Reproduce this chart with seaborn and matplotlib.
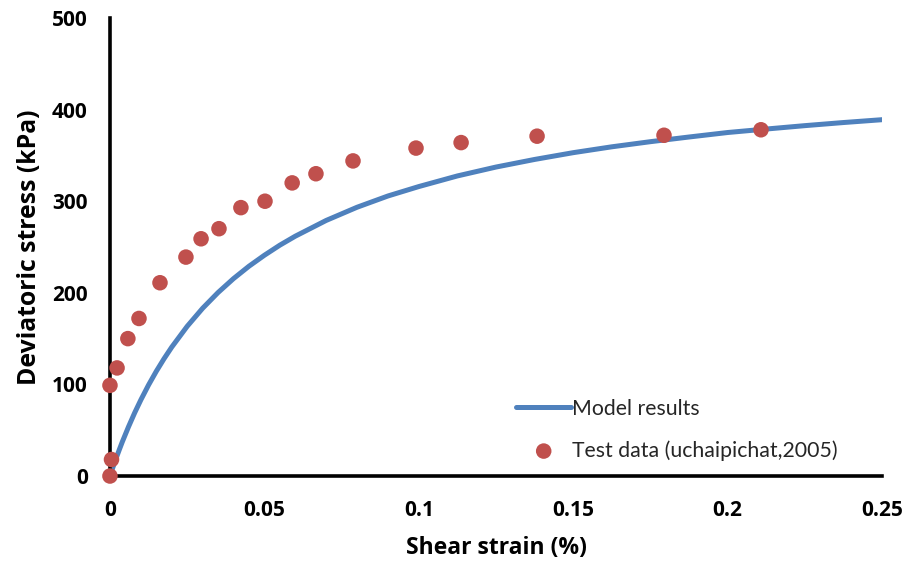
import matplotlib
matplotlib.use("Agg")
import matplotlib.pyplot as plt
import seaborn as sns
import pandas as pd
from matplotlib.ticker import MultipleLocator, FormatStrFormatter, FuncFormatter

# Model curve (shear strain %, deviatoric stress kPa)
model_strain = [0, 0.0005, 0.001, 0.002, 0.003, 0.004, 0.006, 0.008, 0.01,
                0.0125, 0.015, 0.0175, 0.02, 0.025, 0.03, 0.035, 0.04, 0.045,
                0.05, 0.055, 0.06, 0.07, 0.08, 0.09, 0.1, 0.1125, 0.125,
                0.1375, 0.15, 0.1625, 0.175, 0.1875, 0.2, 0.2125, 0.225,
                0.2375, 0.25]
model_stress = [0, 5.0, 9.9, 19.4, 28.5, 37.3, 53.7, 69.0, 83.1,
                99.4, 114.3, 128.0, 140.7, 163.4, 183.1, 200.3, 215.5, 229.0,
                241.0, 252.0, 261.8, 279.0, 293.4, 305.7, 316.0, 327.6, 337.3,
                345.6, 353.0, 359.4, 365.0, 370.1, 375.0, 378.8, 382.5,
                385.9, 389.0]

# Laboratory test data
test_strain = [0, 0.0005, 0, 0.0023, 0.0058, 0.0094, 0.0162, 0.0246, 0.0295,
               0.0353, 0.0424, 0.0502, 0.059, 0.0667, 0.0787, 0.0991, 0.1137,
               0.1383, 0.1794, 0.2108]
test_stress = [0, 18, 99, 118, 150, 172, 211, 239, 259, 270, 293, 300, 320,
               330, 344, 358, 364, 371, 372, 378]

model_df = pd.DataFrame({"strain": model_strain, "stress": model_stress})
test_df = pd.DataFrame({"strain": test_strain, "stress": test_stress})

sns.set_theme(style="white")
plt.rcParams["font.family"] = ["Open Sans", "DejaVu Sans"]
plt.rcParams["font.weight"] = "bold"

fig = plt.figure(figsize=(9.11, 5.72), dpi=100)
ax = fig.add_axes([0.1207, 0.1678, 0.8475, 0.8007])

sns.lineplot(data=model_df, x="strain", y="stress", ax=ax, color="#4F81BD",
             linewidth=3.6, label="Model results", sort=False)
sns.scatterplot(data=test_df, x="strain", y="stress", ax=ax, color="#C0504D",
                s=125, edgecolor="none", label="Test data (uchaipichat,2005)",
                clip_on=False, zorder=5)

ax.set_xlim(0, 0.25)
ax.set_ylim(0, 500)
ax.xaxis.set_major_locator(MultipleLocator(0.05))
ax.yaxis.set_major_locator(MultipleLocator(100))
ax.xaxis.set_major_formatter(FuncFormatter(lambda v, p: f"{v:g}"))
ax.yaxis.set_major_formatter(FormatStrFormatter("%d"))

for side in ("top", "right"):
    ax.spines[side].set_visible(False)
for side in ("left", "bottom"):
    ax.spines[side].set_linewidth(2.6)
    ax.spines[side].set_color("black")

ax.tick_params(axis="both", direction="out", length=5, width=2, color="black",
               labelsize=15, labelcolor="black")
ax.tick_params(axis="y", pad=11)
ax.tick_params(axis="x", pad=12)

ax.set_xlabel("Shear strain (%)", fontsize=16.5, fontweight="bold",
              labelpad=11, color="black")
ax.set_ylabel("Deviatoric stress (kPa)", fontsize=17.8, fontweight="bold",
              labelpad=7, color="black")

leg = ax.legend(loc="lower left", bbox_to_anchor=(0.515, 0.015), frameon=False,
                prop={"family": ["Lato", "DejaVu Sans"], "size": 15.3,
                      "weight": "normal"},
                handlelength=2.6, handletextpad=0.05, labelspacing=1.0,
                borderaxespad=0)

fig.savefig("out.png", dpi=100)
